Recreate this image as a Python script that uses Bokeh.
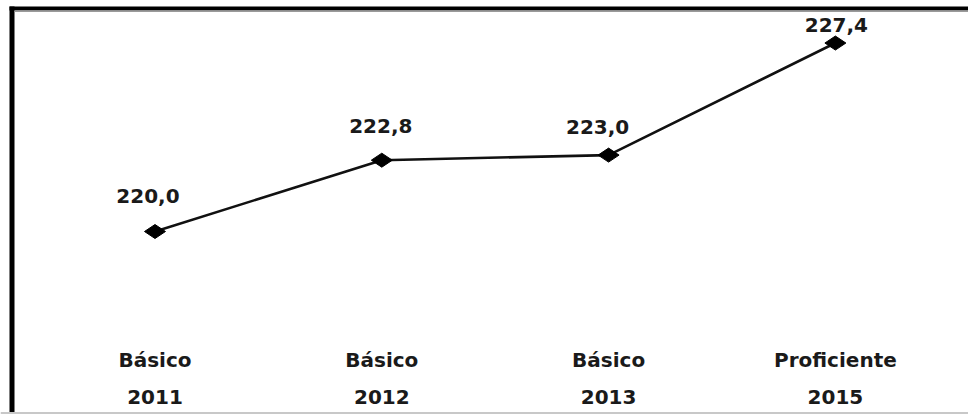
import math
from bokeh.plotting import figure
from bokeh.models import Range1d, Span, BoxAnnotation
from bokeh.core.properties import value
from bokeh.embed import file_html
from bokeh.resources import INLINE

levels = ["Básico", "Básico", "Básico", "Proficiente"]
years = ["2011", "2012", "2013", "2015"]
scores = [220.0, 222.8, 223.0, 227.4]
score_labels = ["220,0", "222,8", "223,0", "227,4"]

xs = list(range(len(years)))
# style: pixel nudges of the value labels
label_dx = [-7, -1, -11, 1]
label_dy = [-36, -34, -28, -18]

W, H = 968, 414
x_range = Range1d(-0.6812, 3.5869)
y_range = Range1d(212.815, 229.07)

p = figure(width=W, height=H, x_range=x_range, y_range=y_range,
           output_backend="svg", toolbar_location=None,
           min_border=0, min_border_left=0, min_border_right=0,
           min_border_top=0, min_border_bottom=0)
p.axis.visible = False
p.grid.visible = False
p.outline_line_color = None
p.background_fill_color = "white"
p.border_fill_color = "white"

p.line(xs, scores, line_color="#111111", line_width=2.6)
p.scatter(xs, scores, marker="diamond", size=21, angle=math.pi / 2,
          fill_color="black", line_color="black")

p.text(xs, scores, text=score_labels, x_offset=label_dx, y_offset=label_dy,
       text_font=value("DejaVu Sans"), text_font_style="bold",
       text_font_size="20px", text_color="#1a1a1a",
       text_align="center", text_baseline="middle")

ybot = [y_range.start] * len(xs)
p.text(xs, ybot, text=levels, y_offset=-55,
       text_font=value("DejaVu Sans"), text_font_style="bold",
       text_font_size="20px", text_color="#1a1a1a",
       text_align="center", text_baseline="middle")
p.text(xs, ybot, text=years, y_offset=-18,
       text_font=value("DejaVu Sans"), text_font_style="bold",
       text_font_size="20px", text_color="#1a1a1a",
       text_align="center", text_baseline="middle")

# frame lines (decoration)
px_x = (x_range.end - x_range.start) / W
px_y = (y_range.end - y_range.start) / H
x0 = x_range.start
y1 = y_range.end
p.add_layout(BoxAnnotation(left=x0 + 9 * px_x, right=x0 + 14 * px_x,
                           top=y1 - 6 * px_y, fill_color="black", fill_alpha=1,
                           line_color=None))
p.add_layout(BoxAnnotation(left=x0 + 9 * px_x, top=y1 - 6 * px_y,
                           bottom=y1 - 10 * px_y, fill_color="black",
                           fill_alpha=1, line_color=None))
p.add_layout(BoxAnnotation(left=x0 + 14 * px_x, top=y1 - 10 * px_y,
                           bottom=y1 - 11.5 * px_y, fill_color="#9a9a9a",
                           fill_alpha=1, line_color=None))
p.add_layout(Span(location=y_range.start + 1.5 * px_y, dimension="width",
                  line_color="#c8c8c8", line_width=2))

open("out.html", "w").write(file_html(p, INLINE))
